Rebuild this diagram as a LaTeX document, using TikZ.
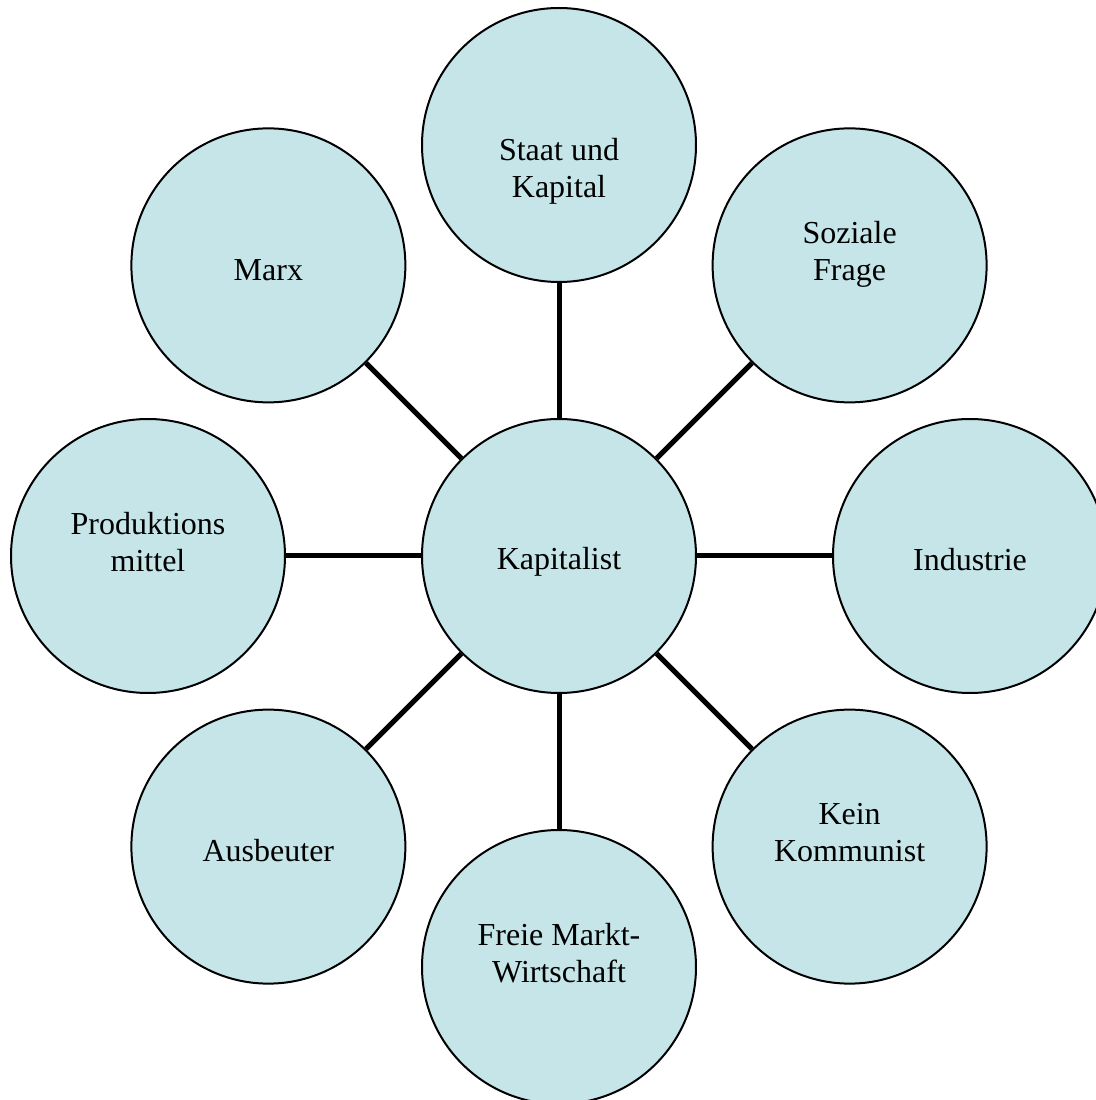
\documentclass[tikz,border=0pt]{standalone}
\usepackage{fontspec}
\setmainfont{Liberation Serif}
\definecolor{bubblefill}{HTML}{C5E5E9}
\tikzset{
  bubble/.style={circle, draw=black, line width=1pt, fill=bubblefill,
    minimum size=137pt, inner sep=0pt},
  lbl/.style={align=center, font=\fontsize{16}{18.4}\selectfont, inner sep=0pt}
}
\begin{document}
\begin{tikzpicture}[x=1pt,y=1pt]
      \useasboundingbox (0,0) rectangle (548,550);
      \begin{scope}[shift={(279.5,272)}]
      \draw
        (0,0) node[bubble] (kap){}
        (90:205.5) node[bubble] (staat){}
        (45:205.5) node[bubble] (sozial){}
        (0:205.5) node[bubble] (industrie){}
        (-45:205.5) node[bubble] (kein){}
        (-90:205.5) node[bubble] (markt){}
        (-135:205.5) node[bubble] (ausbeuter){}
        (180:205.5) node[bubble] (prod){}
        (135:205.5) node[bubble] (marx){};
      \end{scope}
      % texts
      \node[lbl] (t-kap) at ([yshift=-3pt]kap) {Kapitalist};
      \node[lbl] (t-staat) at ([yshift=-13pt]staat) {Staat und\\Kapital};
      \node[lbl] (t-sozial) at ([yshift=5.5pt]sozial) {Soziale\\Frage};
      \node[lbl] (t-industrie) at ([yshift=-2pt]industrie) {Industrie};
      \node[lbl] (t-kein) at ([yshift=7pt]kein) {Kein\\Kommunist};
      \node[lbl] (t-markt) at ([yshift=7pt]markt) {Freie Markt-\\Wirtschaft};
      \node[lbl] (t-ausbeuter) at ([yshift=-2pt]ausbeuter) {Ausbeuter};
      \node[lbl] (t-prod) at ([yshift=7pt]prod) {Produktions\\mittel};
      \node[lbl] (t-marx) at ([yshift=-2.5pt]marx) {Marx};
      \begin{scope}[-, line width=2.5pt]
        \draw (kap) to (staat);
        \draw (kap) to (sozial);
        \draw (kap) to (industrie);
        \draw (kap) to (kein);
        \draw (kap) to (markt);
        \draw (kap) to (ausbeuter);
        \draw (kap) to (prod);
        \draw (kap) to (marx);
      \end{scope}
    \end{tikzpicture}
\end{document}
